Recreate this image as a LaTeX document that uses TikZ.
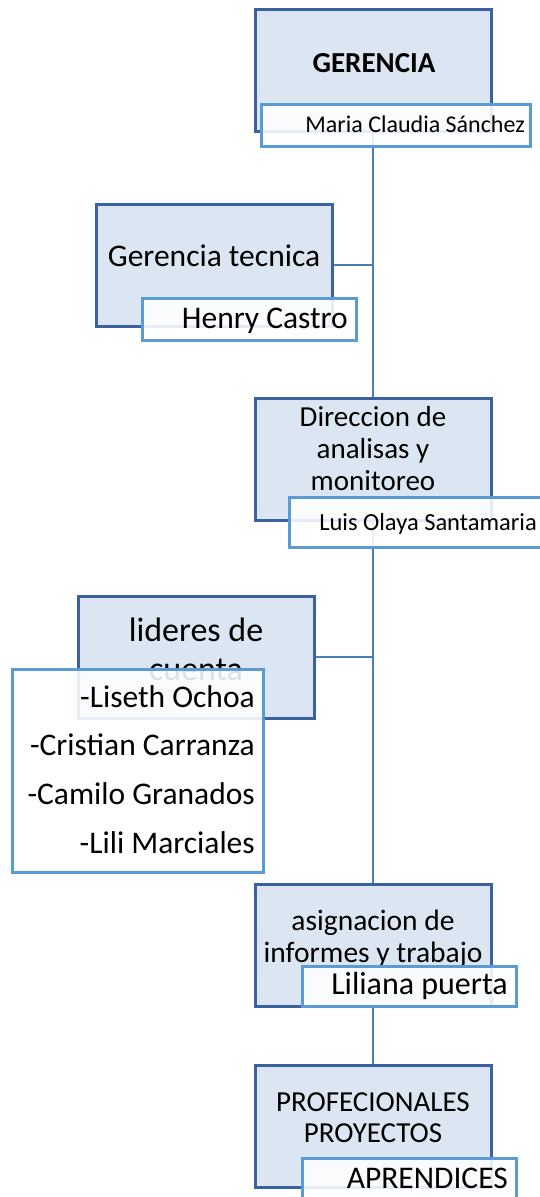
\documentclass[tikz,border=0pt]{standalone}
\usepackage{fontspec}
\setmainfont{Carlito}
\definecolor{boxfill}{HTML}{DCE6F2}
\definecolor{boxdraw}{HTML}{3B62A0}
\definecolor{namedraw}{HTML}{5B9BD5}
\definecolor{linkcol}{HTML}{4A7EBB}
\tikzset{
  unitbox/.style={draw=boxdraw, fill=boxfill, line width=3pt, inner sep=0pt, minimum width=236pt, minimum height=122pt},
  namebox/.style={draw=namedraw, fill=white, fill opacity=0.88, line width=3pt, inner sep=0pt},
  link/.style={draw=linkcol, line width=2.8pt},
  maintext/.style={inner sep=0pt, align=center, anchor=base},
  nametext/.style={inner sep=0pt, anchor=base east},
}
\begin{document}
\begin{tikzpicture}[x=1pt,y=-1pt]
\useasboundingbox (0,0) rectangle (539,1197);
% main boxes
\node[unitbox] (ger)  at (373,70) {};
\node[unitbox] (gt)   at (214,265) {};
\node[unitbox] (dir)  at (373,459) {};
\node[unitbox] (lid)  at (196,657) {};
\node[unitbox] (asig) at (373,945) {};
\node[unitbox] (prof) at (373,1126) {};
% connectors
\draw[link] (ger.south) -- (dir.north);
\draw[link] (dir.south) -- (asig.north);
\draw[link] (asig.south) -- (prof.north);
\draw[link] (gt.east) -- (gt.east -| ger.south);
\draw[link] (lid.east) -- (lid.east -| dir.south);
% main texts
\node[maintext, font=\fontsize{29}{32}\bfseries\selectfont] (tger) at (374,72) {GERENCIA};
\node[maintext, font=\fontsize{31.5}{34}\selectfont] (tgt) at (214,266) {Gerencia tecnica};
\node[maintext, font=\fontsize{29}{32}\selectfont] (tdir) at (373,490) {Direccion de\\analisas y\\monitoreo};
\node[maintext, font=\fontsize{34}{39}\selectfont] (tlid) at (196,680) {lideres de\\cuenta};
% name boxes
\node[namebox, minimum width=269pt, minimum height=42pt] (nger) at (395.5,125) {};
\node[namebox, minimum width=214pt, minimum height=42pt] (ngt) at (249.5,319) {};
\node[namebox, minimum width=252pt, minimum height=50pt] (ndir) at (415,522) {};
\node[namebox, minimum width=251pt, minimum height=203pt] (nlid) at (137.5,770.5) {};
\node[maintext, font=\fontsize{29.5}{32}\selectfont] (tasig) at (373,962) {asignacion de\\informes y trabajo};
\node[namebox, minimum width=214pt, minimum height=40pt] (nasig) at (409,986) {};
\node[maintext, font=\fontsize{29}{31}\selectfont] (tprof) at (373,1142) {PROFECIONALES\\PROYECTOS};
\node[namebox, minimum width=214pt, minimum height=60pt] (nprof) at (409,1188) {};
% name texts
\node[nametext, font=\fontsize{24}{27}\selectfont] at (525,132) {Maria Claudia Sánchez};
\node[nametext, font=\fontsize{31.5}{34}\selectfont] at (348,328) {Henry Castro};
\node[nametext, font=\fontsize{24.5}{27}\selectfont] at (537,530) {Luis Olaya Santamaria};
\node[nametext, font=\fontsize{31.5}{34}\selectfont] at (255,707) {-Liseth Ochoa};
\node[nametext, font=\fontsize{31.5}{34}\selectfont] at (255,755) {-Cristian Carranza};
\node[nametext, font=\fontsize{31.5}{34}\selectfont] at (255,804) {-Camilo Granados};
\node[nametext, font=\fontsize{31.5}{34}\selectfont] at (255,853) {-Lili Marciales};
\node[nametext, font=\fontsize{32}{34}\selectfont] at (508,994) {Liliana puerta};
\node[nametext, font=\fontsize{31.5}{34}\selectfont] at (508,1188) {APRENDICES};
\end{tikzpicture}
\end{document}
